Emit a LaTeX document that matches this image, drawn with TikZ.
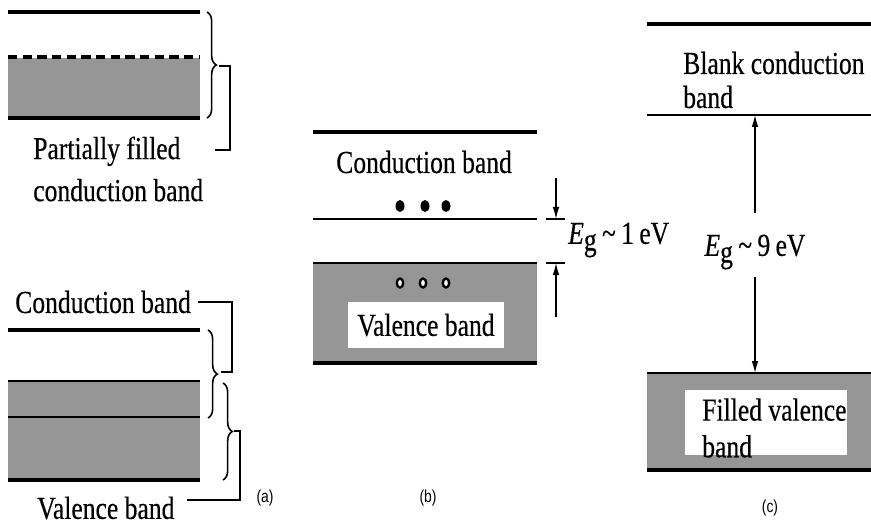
\documentclass[tikz,border=0pt]{standalone}
\usepackage{fontspec}
\setmainfont[FakeStretch=0.8,FakeBold=0.4]{Liberation Serif}
\setsansfont[FakeStretch=0.8]{Liberation Sans}
\usetikzlibrary{arrows.meta,calc,decorations.pathreplacing}

\definecolor{bandgray}{RGB}{150,150,150}

\tikzset{
  band/.style={fill=bandgray,draw=none},
  thickline/.style={line width=3pt},
  midline/.style={line width=2.2pt},
  thinline/.style={line width=1.5pt},
  lbl/.style={font=\fontsize{24}{30}\selectfont,inner sep=0pt},
  tag/.style={font=\sffamily\fontsize{13}{14}\selectfont,inner sep=0pt},
  brace/.style={decorate,decoration={brace,amplitude=7pt},line width=1.2pt},
  bracket/.style={line width=1.2pt},
  gaparrow/.style={-{Latex[length=9pt,width=5pt]},line width=1pt},
  hole/.style={draw=black,line width=1.8pt,fill=white},
}

\newcommand{\gap}[1]{{\itshape E}\raisebox{-0.45ex}{g}\,\textasciitilde\,#1\,eV}

\begin{document}
\begin{tikzpicture}[x=0.75pt,y=-0.75pt]
\useasboundingbox (0,0) rectangle (871,524);

% (a) metal, partially filled band
\draw[thickline] (8,12)--(200,12);
\fill[band] (8,58) rectangle (200,118);
\draw[thickline,dash pattern=on 7pt off 4pt] (8,57)--(200,57);
\draw[thickline] (8,118)--(200,118);
\draw[brace] (207,12)--(207,118);
\draw[bracket] (219,66)--(230,66)--(230,150)--(215,150);
\node[lbl,align=left,anchor=west,font=\fontsize{24}{31.5}\selectfont] (partial) at (33,169)
  {Partially filled\\conduction band};

% (a) metal, overlapping bands
\node[lbl,anchor=west] (condA) at (15,302) {Conduction band};
\draw[bracket] (198,302)--(232,302)--(232,372)--(221,372);
\draw[thickline] (8,330)--(200,330);
\fill[band] (8,381) rectangle (200,480);
\draw[thinline] (8,381)--(200,381);
\draw[midline] (8,417)--(200,417);
\draw[thickline] (8,480)--(200,480);
\draw[brace] (208,330)--(208,418);
\draw[brace] (223,383)--(223,480);
\draw[bracket] (234,431)--(240,431)--(240,500)--(187,500);
\node[lbl,anchor=west] (valA) at (37,508) {Valence band};
\node[tag] (tagA) at (265,498) {(a)};

% (b) semiconductor
\draw[thickline] (313,132)--(537,132);
\node[lbl,anchor=west] (condB) at (336,162) {Conduction band};
\foreach \x in {400,425,446}
  \fill (\x,206) ellipse (4.5 and 6);
\draw[thinline] (313,219)--(537,219);
\fill[band] (313,263) rectangle (537,363);
\draw[thinline] (313,263)--(537,263);
\draw[thickline] (313,363)--(537,363);
\foreach \x in {400,423,446}
  \draw[hole] (\x,283) ellipse (3.2 and 4.5);
\node[fill=white,minimum width=117pt,minimum height=34pt,inner sep=0pt] (valBox) at (426,325) {};
\node[lbl] (valB) at (426,325) {Valence band};

% gap marker
\coordinate (gTop) at (556,219);
\coordinate (gBot) at (556,263);
\coordinate (gTopStart) at (556,178);
\coordinate (gBotStart) at (556,317);
\draw[thinline] (546,219)--(565,219);
\draw[thinline] (546,263)--(565,263);
\draw[gaparrow] (gTopStart)--(gTop);
\draw[gaparrow] (gBotStart)--(gBot);
\node[lbl,anchor=west] (gapB) at (568,240) {\gap{1}};
\node[tag] (tagB) at (428,498) {(b)};

% (c) insulator
\draw[thickline] (647,24)--(871,24);
\node[lbl,align=left,anchor=west,font=\fontsize{24}{25.5}\selectfont] (condC) at (683,80)
  {Blank conduction\\band};
\draw[thinline] (647,115)--(871,115);
\node[lbl] (gapC) at (755,252) {\gap{9}};
\coordinate (cTop) at (755,115);
\coordinate (cBot) at (755,373);
\coordinate (cTopStart) at (755,213);
\coordinate (cBotStart) at (755,277);
\draw[gaparrow] (cTopStart)--(cTop);
\draw[gaparrow] (cBotStart)--(cBot);
\fill[band] (647,373) rectangle (871,470);
\draw[thinline] (647,373)--(871,373);
\draw[thickline] (647,470)--(871,470);
\fill[white] (685,390) rectangle (847,455);
\node[lbl,align=left,anchor=west,font=\fontsize{24}{27.5}\selectfont] (valC) at (702,428)
  {Filled valence\\band};
\node[tag] (tagC) at (770,508) {(c)};

\end{tikzpicture}
\end{document}
